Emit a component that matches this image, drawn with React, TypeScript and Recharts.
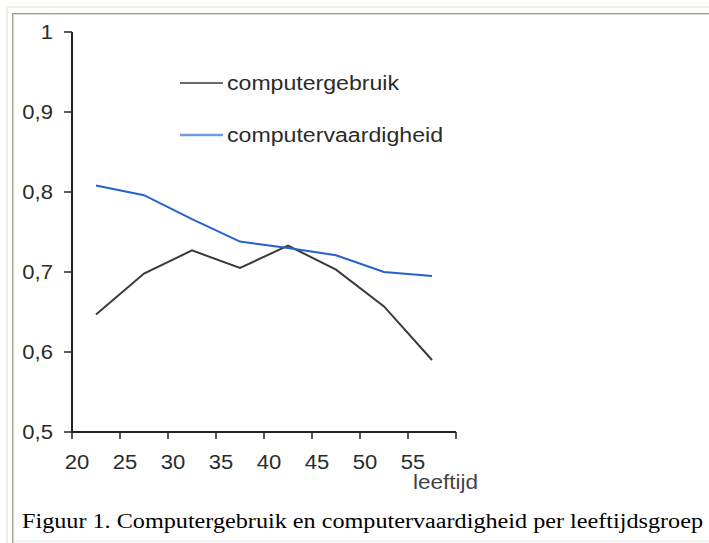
import React from 'react';
import { LineChart, Line, XAxis, YAxis } from 'recharts';

const ageGroups = [22.5, 27.5, 32.5, 37.5, 42.5, 47.5, 52.5, 57.5];
const computergebruik = [0.647, 0.698, 0.727, 0.705, 0.733, 0.703, 0.657, 0.59];
const computervaardigheid = [0.808, 0.796, 0.766, 0.738, 0.73, 0.721, 0.7, 0.695];
const xTicks = [20, 25, 30, 35, 40, 45, 50, 55, 60];
const yTicks = [0.5, 0.6, 0.7, 0.8, 0.9, 1];

const data = ageGroups.map((age, i) => ({
  age,
  gebruik: computergebruik[i],
  vaardigheid: computervaardigheid[i],
}));

const FONT = '"Liberation Sans", Arial, sans-serif';
const SERIF = '"Liberation Serif", "Times New Roman", serif';
const TEXT = '#2b2b2b';
const FS = 19.5;
// the original picture is a bit stretched sideways
const STRETCH = 1.13;

const formatY = (v: number) => (v === 1 ? '1' : v.toFixed(1).replace('.', ','));

// rough Arial advance widths for digits and comma
const numWidth = (s: string) =>
  s.split('').reduce((w, c) => w + (c === ',' ? 0.278 : 0.556), 0) * FS * STRETCH;

const XTick = ({ x, y, payload }: any) => {
  if (payload.value === 60) return null;
  const label = String(payload.value);
  return (
    <text
      x={x + 5}
      y={y + 30}
      textAnchor="middle"
      fill={TEXT}
      fontFamily={FONT}
      fontSize={FS}
      textLength={numWidth(label)}
      lengthAdjust="spacingAndGlyphs"
    >
      {label}
    </text>
  );
};

const YTick = ({ x, y, payload }: any) => {
  const label = formatY(payload.value);
  return (
    <text
      x={x}
      y={y}
      dy="0.355em"
      textAnchor="end"
      fill={TEXT}
      fontFamily={FONT}
      fontSize={FS}
      textLength={numWidth(label)}
      lengthAdjust="spacingAndGlyphs"
    >
      {label}
    </text>
  );
};

const App = () => {
  return (
    <div style={{ position: 'absolute', left: 0, top: 0, width: 709, height: 543, background: '#fff', overflow: 'hidden' }}>
      {/* frame lines */}
      <div style={{ position: 'absolute', left: 6, top: 6, width: 703, height: 2, background: '#f1efe2' }} />
      <div style={{ position: 'absolute', left: 6, top: 6, width: 2, height: 537, background: '#f1efe2' }} />
      <div style={{ position: 'absolute', left: 12, top: 13, width: 697, height: 1, background: '#a6a497' }} />
      <div style={{ position: 'absolute', left: 12, top: 14, width: 697, height: 1, background: '#d6d4cb' }} />
      <div style={{ position: 'absolute', left: 12, top: 13, width: 1, height: 530, background: '#a6a497' }} />
      <div style={{ position: 'absolute', left: 13, top: 14, width: 1, height: 529, background: '#d6d4cb' }} />
      <div style={{ position: 'absolute', left: 14, top: 540, width: 695, height: 3, background: '#f4f4f4' }} />

      <div style={{ position: 'absolute', left: 0, top: 0 }}>
        <LineChart width={709} height={543} data={data} margin={{ top: 32, right: 253, bottom: 81, left: 0 }}>
          <XAxis
            dataKey="age"
            type="number"
            domain={[20, 60]}
            ticks={xTicks}
            interval={0}
            height={30}
            tickSize={7}
            tickMargin={0}
            tick={<XTick />}
            axisLine={{ stroke: '#222', strokeWidth: 2 }}
            tickLine={{ stroke: '#222', strokeWidth: 1.5 }}
          />
          <YAxis
            type="number"
            domain={[0.5, 1]}
            ticks={yTicks}
            interval={0}
            width={72}
            tickSize={8}
            tickMargin={11}
            tick={<YTick />}
            axisLine={{ stroke: '#222', strokeWidth: 2 }}
            tickLine={{ stroke: '#222', strokeWidth: 1.5 }}
          />
          <Line dataKey="gebruik" stroke="#3a3a3a" strokeWidth={2} dot={false} isAnimationActive={false} />
          <Line dataKey="vaardigheid" stroke="#2462cc" strokeWidth={2} dot={false} isAnimationActive={false} />
        </LineChart>
      </div>

      {/* legend, axis title and caption */}
      <svg width={709} height={543} style={{ position: 'absolute', left: 0, top: 0, pointerEvents: 'none' }}>
        <line x1={180} x2={223} y1={83} y2={83} stroke="#3a3a3a" strokeWidth={1.5} />
        <text x={227} y={83} dy="0.355em" fill={TEXT} fontFamily={FONT} fontSize={FS} textLength={172} lengthAdjust="spacingAndGlyphs">
          computergebruik
        </text>
        <line x1={180} x2={223} y1={135} y2={135} stroke="#6f9de0" strokeWidth={2.5} />
        <text x={227} y={135} dy="0.355em" fill={TEXT} fontFamily={FONT} fontSize={FS} textLength={216} lengthAdjust="spacingAndGlyphs">
          computervaardigheid
        </text>
        <text x={413} y={489} fill="#444" fontFamily={FONT} fontSize={FS} textLength={65} lengthAdjust="spacingAndGlyphs">
          leeftijd
        </text>
        <text x={22} y={528} fill="#000" fontFamily={SERIF} fontSize={20} textLength={681} lengthAdjust="spacingAndGlyphs">
          Figuur 1. Computergebruik en computervaardigheid per leeftijdsgroep
        </text>
      </svg>
    </div>
  );
};

export default App;
